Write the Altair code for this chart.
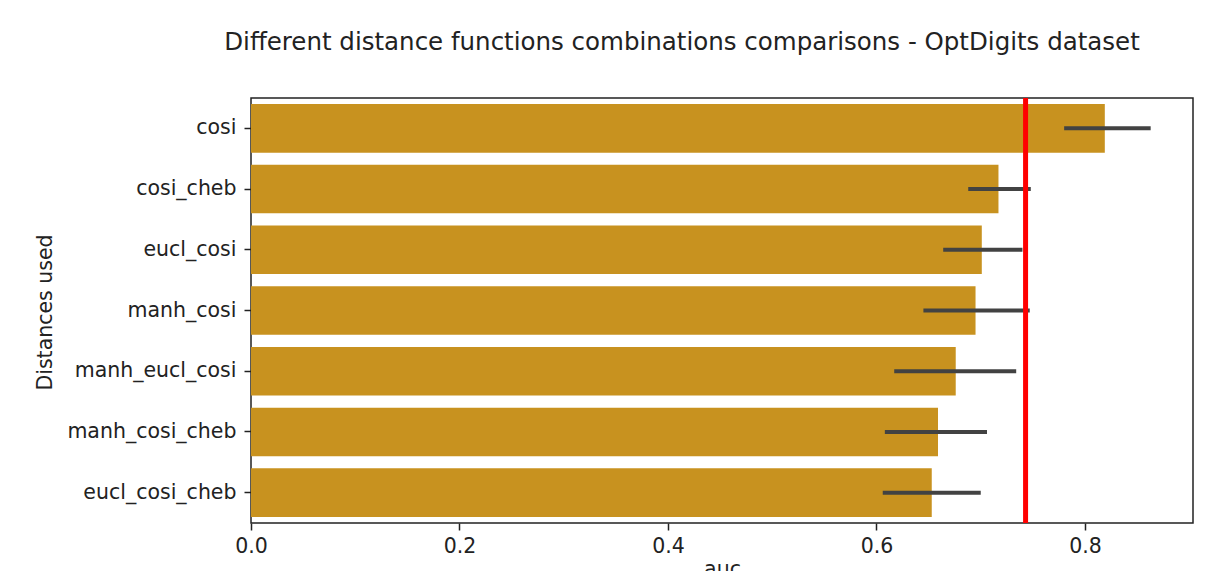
import altair as alt
import pandas as pd

categories = ["cosi", "cosi_cheb", "eucl_cosi", "manh_cosi",
              "manh_eucl_cosi", "manh_cosi_cheb", "eucl_cosi_cheb"]
auc_mean = [0.819, 0.717, 0.701, 0.695, 0.676, 0.659, 0.653]
ci_low = [0.780, 0.688, 0.664, 0.645, 0.617, 0.608, 0.606]
ci_high = [0.863, 0.748, 0.740, 0.747, 0.734, 0.706, 0.700]
reference_auc = [0.743]
x_ticks = [0.0, 0.2, 0.4, 0.6, 0.8]
x_max = 0.9036

df = pd.DataFrame({"dist": categories, "auc": auc_mean, "lo": ci_low, "hi": ci_high})
ref = pd.DataFrame({"ref": reference_auc})

FONT = "DejaVu Sans"

xscale = alt.Scale(domain=[0, x_max], nice=False, zero=True)
yscale = alt.Scale(domain=categories, paddingInner=0.2, paddingOuter=0.1)

bars = alt.Chart(df).mark_bar(color="#c8921f").encode(
    x=alt.X("auc:Q", scale=xscale,
            axis=alt.Axis(values=x_ticks, format=".1f", title="auc", grid=False,
                          domain=False, tickSize=7, tickWidth=1.5, tickColor="#222",
                          labelFlush=False, labelOverlap=False,
                          labelPadding=6, labelFontSize=20.5, labelFont=FONT, labelColor="#222",
                          titleFontSize=20.5, titleFont=FONT, titleColor="#222",
                          titleFontWeight="normal", titleX=471, titleY=46,
                          titleBaseline="middle")),
    y=alt.Y("dist:N", scale=yscale, sort=categories,
            axis=alt.Axis(title="Distances used", domain=False, tickSize=7, tickWidth=1.5,
                          tickColor="#222", labelPadding=8, labelFontSize=20.5, labelFont=FONT,
                          labelColor="#222", titleFontSize=20.5, titleFont=FONT,
                          titleColor="#222", titleFontWeight="normal", titleAngle=-90,
                          titleX=-206, titleY=214, titleAlign="center",
                          titleBaseline="middle")),
)

err = alt.Chart(df).mark_rule(color="#424242", strokeWidth=4).encode(
    x=alt.X("lo:Q", scale=xscale),
    x2="hi:Q",
    y=alt.Y("dist:N", scale=yscale, sort=categories),
)

refline = alt.Chart(ref).mark_rule(color="#ff0000", strokeWidth=5).encode(
    x=alt.X("ref:Q", scale=xscale),
)

chart = alt.layer(bars, err, refline).properties(
    width=942,
    height=425,
    autosize="none",
    padding={"left": 243, "top": 90, "right": 21, "bottom": 48},
    title=alt.TitleParams(
        "Different distance functions combinations comparisons - OptDigits dataset",
        fontSize=24.5, font=FONT, fontWeight="normal", color="#222",
        anchor="middle", dx=-40, offset=21, baseline="alphabetic"),
).configure_view(stroke="#222", strokeWidth=1.5)

chart.save("out.html", embed_options={"renderer": "svg", "actions": False})
